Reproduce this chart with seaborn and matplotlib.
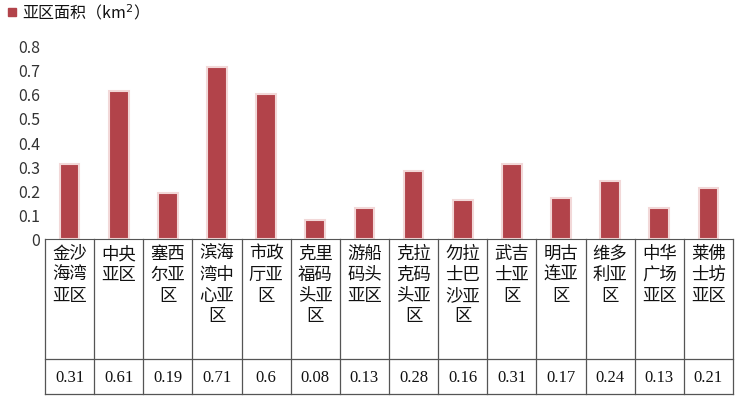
import matplotlib
matplotlib.use("Agg")
import matplotlib.pyplot as plt
import seaborn as sns
import pandas as pd

categories = ["金沙海湾亚区", "中央亚区", "塞西尔亚区", "滨海湾中心亚区", "市政厅亚区", "克里福码头亚区",
              "游船码头亚区", "克拉克码头亚区", "勿拉士巴沙亚区", "武吉士亚区", "明古连亚区",
              "维多利亚区", "中华广场亚区", "莱佛士坊亚区"]
values = [0.31, 0.61, 0.19, 0.71, 0.6, 0.08, 0.13, 0.28, 0.16, 0.31, 0.17, 0.24, 0.13, 0.21]
value_labels = ["0.31", "0.61", "0.19", "0.71", "0.6", "0.08", "0.13", "0.28", "0.16", "0.31",
                "0.17", "0.24", "0.13", "0.21"]
yticks = [0, 0.1, 0.2, 0.3, 0.4, 0.5, 0.6, 0.7, 0.8]
ytick_labels = ["0", "0.1", "0.2", "0.3", "0.4", "0.5", "0.6", "0.7", "0.8"]

plt.rcParams["font.family"] = "Noto Sans CJK SC"
W, H = 737, 402
fig = plt.figure(figsize=(W / 100, H / 100), dpi=100)
L, R, T, B = 45, 733, 43, 240
ax = fig.add_axes([L / W, 1 - B / H, (R - L) / W, (B - T) / H])
df = pd.DataFrame({"cat": categories, "val": values})
sns.barplot(data=df, x="cat", y="val", color="#B2434A", width=0.4, ax=ax, saturation=1,
            edgecolor="#F2D8D8", linewidth=1.5)
ax.set_ylim(0, (B - T) / 242)
ax.set_xlim(-0.5, len(categories) - 0.5)
ax.set_yticks(yticks)
ax.set_yticklabels(ytick_labels, fontsize=11.5, color="#333333")
ax.tick_params(length=0)
ax.set_xticks([])
ax.set_xlabel("")
ax.set_ylabel("")
for s in ["top", "right", "left"]:
    ax.spines[s].set_visible(False)
ax.spines["bottom"].set_color("#555555")

# data table
n = len(categories)
cw = (R - L) / n
def fx(px): return px / W
def fy(py): return 1 - py / H
line_kw = dict(color="#555555", lw=0.9)
for y in [360, 395]:
    fig.add_artist(plt.Line2D([fx(L), fx(R)], [fy(y), fy(y)], **line_kw))
for i in range(n + 1):
    x = L + i * cw
    fig.add_artist(plt.Line2D([fx(x), fx(x)], [fy(B), fy(395)], **line_kw))
for i, (c, v) in enumerate(zip(categories, value_labels)):
    x = L + (i + 0.5) * cw
    lines = "\n".join(c[j:j + 2] for j in range(0, len(c), 2))
    fig.text(fx(x), fy(245), lines, ha="center", va="top", fontsize=12.5, linespacing=1.2,
             color="#111111")
    fig.text(fx(x), fy(378), v, ha="center", va="center", fontsize=12,
             family="Liberation Serif", color="#111111")

# legend
fig.add_artist(plt.Rectangle((fx(8), fy(17)), 8 / W, 8 / H, color="#B2434A",
                             transform=fig.transFigure))
fig.text(fx(22), fy(13), "亚区面积（km$^2$）", ha="left", va="center", fontsize=11.5, color="#111111")

fig.savefig("out.png", dpi=100, facecolor="white")
